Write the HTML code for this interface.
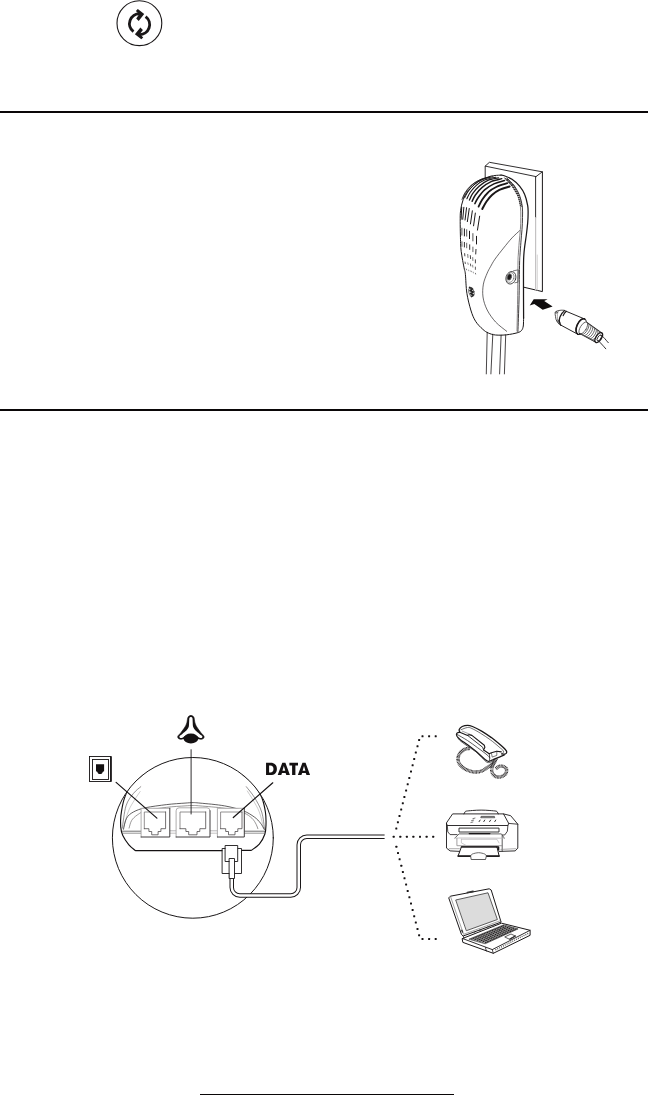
<!DOCTYPE html>
<html>
<head>
<meta charset="utf-8">
<title>Connection guide</title>
<style>
html,body{margin:0;padding:0;background:#fff;}
body{width:648px;height:1095px;position:relative;overflow:hidden;font-family:"Liberation Sans",sans-serif;}
.rule{position:absolute;left:0;width:648px;background:#0a0708;}
#r1{top:110.9px;height:1.9px;}
#r2{top:408.8px;height:2px;}
#r3{top:1094px;height:2px;left:200px;width:254px;}
svg{position:absolute;left:0;top:0;}

</style>
</head>
<body>
<div class="rule" id="r1"></div>
<div class="rule" id="r2"></div>
<div class="rule" id="r3"></div>
<svg width="648" height="1095" viewBox="0 0 648 1095" fill="none" stroke="#1a1718" stroke-width="1" stroke-linecap="round" stroke-linejoin="round">
<g id="icon">
<circle cx="139.4" cy="23.2" r="22.4" stroke-width="1.1"/>
<g stroke="#1a1718">
<path d="M139.85 13.71 A10.0 10.0 0 0 0 133.48 31.69" stroke-width="2.9" stroke-linecap="butt"/>
<polygon points="144.2,14.0 137.8,9.0 135.9,10.9 139.2,14.3 136.2,18.4 138.7,20.9" fill="#1a1718" stroke="none"/>
</g>
<g stroke="#1a1718" transform="translate(0.1 0.9) rotate(180 139.50 23.70)">
<path d="M139.85 13.71 A10.0 10.0 0 0 0 133.48 31.69" stroke-width="2.9" stroke-linecap="butt"/>
<polygon points="144.2,14.0 137.8,9.0 135.9,10.9 139.2,14.3 136.2,18.4 138.7,20.9" fill="#1a1718" stroke="none"/>
</g>
</g>
<g id="adapter">
<path d="M485.2 178.5 L485.2 166.1 L536 176.6" stroke="#1a1718" stroke-width="0.9" fill="none" />
<path d="M485.2 166.1 L489.4 162.3 L542.3 171.8 L536 176.6" stroke="#1a1718" stroke-width="0.9" fill="none" />
<path d="M542.4 171.8 L542.4 291.6 L523.8 287.2" stroke="#1a1718" stroke-width="1.0" fill="none" />
<path d="M535.6 177 L535.6 217.5" stroke="#1a1718" stroke-width="0.9" fill="none" />
<path d="M535.6 217.5 L535.6 289.9" stroke="#c4c2c3" stroke-width="1.2" fill="none" />
<path d="M537.3 255 L537.3 290.3" stroke="#c4c2c3" stroke-width="0.7" fill="none" />
<path d="M500.9 175.1 C499.9 175.2 497.1 175.2 495 175.5 C492.9 175.8 491.5 175.8 488.6 176.9 C485.7 178 481.2 179.7 477.8 182 C474.4 184.3 470.9 187.5 468.5 190.5 C466.1 193.5 464.4 196.5 463.1 199.8 C461.8 203.2 461.1 207 460.6 210.6 C460.1 214.2 460.2 217.3 460.2 221.4 C460.2 225.5 460.3 231.3 460.4 235 C460.5 238.7 460.5 240.9 460.6 243.6 C460.7 246.3 460.9 248.5 461.2 251.3 C461.5 254.1 462.2 257.7 462.7 260.6 C463.2 263.6 463.9 266.7 464.3 269 C464.8 271.3 465 270.3 465.4 274.4 C465.8 278.4 466 287.4 466.9 293.3 C467.8 299.2 469.4 305.3 470.8 310 C472.2 314.7 473.6 318.1 475.6 321.3 C477.6 324.5 480.7 327.4 482.8 329.3 C484.9 331.2 486.2 332.1 488.3 333 C490.4 333.9 492.5 334.7 495.6 335 C498.7 335.3 503.1 335.2 506.7 334.8 C510.3 334.4 514.7 333.5 517.2 332.8 C519.7 332.1 520.5 331.6 521.5 330.5 C522.5 329.4 522.9 328.1 523.3 326 C523.6 323.9 523.5 319.3 523.6 318" stroke="#1a1718" stroke-width="1.0" fill="none" />
<path d="M500.9 175.1 C501.3 175.2 501.6 174.8 503.5 175.5 C505.4 176.2 509.3 177.5 512 179.3 C514.7 181.1 517.5 183.6 519.6 186.1 C521.7 188.6 523.4 191.3 524.7 194.6 C526.1 197.9 527.1 202.4 527.7 205.7 C528.3 208.9 528.1 211.3 528.1 214.1 C528.1 216.9 528 219.2 527.7 222.6 C527.4 226 526.9 230.5 526.4 234.5 C525.9 238.5 525.2 242.2 524.7 246.4 C524.2 250.7 523.8 252.7 523.6 260 C523.4 267.3 523.5 280.3 523.5 290 C523.5 299.7 523.6 313.3 523.6 318" stroke="#1a1718" stroke-width="1.25" fill="none" />
<path d="M506.9 178.1 C508.2 179.4 512.4 183.2 514.5 186.1 C516.6 189 518.3 192.1 519.6 195.5 C520.9 198.9 521.8 202.8 522.3 206.5 C522.8 210.2 522.5 213.7 522.5 217.5 C522.5 221.3 522.3 225.3 522 229.4 C521.7 233.5 521.2 237.9 520.9 242.2 C520.6 246.4 520.2 251.6 520 254.9 C519.8 258.2 519.8 254.5 519.6 262 C519.4 269.5 519.3 288.4 519 300 C518.7 311.6 518.1 326.5 517.9 331.8" stroke="#2a2728" stroke-width="0.9" fill="none" />
<path d="M504.3 177.6 C505.6 179 509.7 183 512 186.1 C514.3 189.2 516.5 192.9 517.9 196.3 C519.3 199.7 519.9 203 520.4 206.5 C520.9 210 520.8 213.7 520.8 217.5 C520.8 221.3 520.7 225.3 520.4 229.4 C520.1 233.5 519.6 237.9 519.2 242.2 C518.9 246.4 518.5 251.6 518.3 254.9 C518.1 258.2 518.1 254.5 518 262 C517.9 269.5 517.8 288.5 517.6 300 C517.4 311.5 517.1 325.8 517 331" stroke="#666364" stroke-width="0.8" fill="none" />
<path d="M504.8 178.6 L508.9 179.9" stroke="#2a2728" stroke-width="1.0" fill="none" stroke-linecap="butt"/>
<path d="M506.3 180.3 L510.4 181.5" stroke="#2a2728" stroke-width="1.0" fill="none" stroke-linecap="butt"/>
<path d="M507.9 182 L512 183.1" stroke="#2a2728" stroke-width="1.0" fill="none" stroke-linecap="butt"/>
<path d="M509.4 183.6 L513.5 184.7" stroke="#2a2728" stroke-width="1.0" fill="none" stroke-linecap="butt"/>
<path d="M510.9 185.3 L514.9 186.3" stroke="#2a2728" stroke-width="1.0" fill="none" stroke-linecap="butt"/>
<path d="M512.3 187.2 L515.9 188.2" stroke="#2a2728" stroke-width="1.0" fill="none" stroke-linecap="butt"/>
<path d="M513.5 189.2 L516.9 190.1" stroke="#2a2728" stroke-width="1.0" fill="none" stroke-linecap="butt"/>
<path d="M514.7 191.2 L517.9 192" stroke="#2a2728" stroke-width="1.0" fill="none" stroke-linecap="butt"/>
<path d="M515.8 193.3 L519 193.8" stroke="#2a2728" stroke-width="1.0" fill="none" stroke-linecap="butt"/>
<path d="M517 195.3 L519.9 195.8" stroke="#2a2728" stroke-width="1.0" fill="none" stroke-linecap="butt"/>
<path d="M517.9 197.3 L520.4 198" stroke="#2a2728" stroke-width="1.0" fill="none" stroke-linecap="butt"/>
<path d="M518.4 199.4 L521 200.2" stroke="#2a2728" stroke-width="1.0" fill="none" stroke-linecap="butt"/>
<path d="M518.9 201.4 L521.5 202.3" stroke="#2a2728" stroke-width="1.0" fill="none" stroke-linecap="butt"/>
<path d="M519.4 203.4 L522 204.5" stroke="#2a2728" stroke-width="1.0" fill="none" stroke-linecap="butt"/>
<path d="M519.9 205.5 L522.5 206.4" stroke="#2a2728" stroke-width="1.0" fill="none" stroke-linecap="butt"/>
<path d="M509.6 186.5 C507.9 187.1 502.3 188.5 499.4 189.9 C496.5 191.3 494.1 193.1 492 195 C489.9 196.9 488.1 199.2 486.5 201.5 C484.9 203.8 483 207.7 482.3 208.9" stroke="#1a1718" stroke-width="2.0" fill="none" />
<path d="M507.3 183.2 C505.5 183.8 499.9 185.2 496.7 186.7 C493.5 188.2 490.7 190 488.3 192.2 C485.9 194.3 483.9 197.2 482.3 199.6 C480.7 202 479.2 205.4 478.6 206.6" stroke="#1a1718" stroke-width="1.8" fill="none" />
<path d="M504.5 180.6 C502.7 181.2 497.2 182.3 493.9 183.9 C490.6 185.5 487.2 187.6 484.6 189.9 C482 192.2 479.7 195.5 478.1 197.8 C476.5 200.1 475.4 202.6 474.9 203.6" stroke="#1a1718" stroke-width="1.6" fill="none" />
<path d="M501.8 178.7 C500 179.2 494.4 180.1 491.1 181.6 C487.8 183.1 484.5 185.4 481.9 187.6 C479.3 189.8 477 192.7 475.4 195 C473.8 197.3 472.7 200.2 472.1 201.3" stroke="#1a1718" stroke-width="1.4" fill="none" />
<path d="M498.5 177.9 C496.6 178.3 490.6 179.2 487.4 180.6 C484.2 182 481.6 184 479.1 186.2 C476.6 188.4 474.2 191.3 472.6 193.6 C471 195.9 469.9 199 469.4 200.1" stroke="#1a1718" stroke-width="1.25" fill="none" />
<path d="M495.7 177.2 C493.9 177.7 487.8 178.7 484.6 180 C481.4 181.3 478.7 183.3 476.3 185.3 C473.9 187.3 471.9 190 470.3 192.2 C468.7 194.4 467.5 197.6 466.9 198.7" stroke="#1a1718" stroke-width="1.1" fill="none" />
<path d="M493 176.7 C491.3 177.1 485.9 178 482.8 179.3 C479.7 180.6 476.9 182.3 474.4 184.4 C471.9 186.5 469.6 189.6 468 191.8 C466.4 194 465.2 196.8 464.7 197.8" stroke="#1a1718" stroke-width="0.95" fill="none" />
<path d="M490.5 176.8 C488.9 177.2 484 178 481 179.3 C478 180.6 475.1 182.3 472.6 184.4 C470.1 186.5 467.8 189.7 466.2 192 C464.6 194.3 463.5 197.2 463 198.3" stroke="#1a1718" stroke-width="0.85" fill="none" />
<path d="M488.5 177.3 C487 177.8 482.4 178.8 479.5 180.2 C476.6 181.5 473.4 183.3 471 185.4 C468.6 187.5 466.3 190.7 464.8 193 C463.3 195.3 462.5 198.4 462 199.5" stroke="#1a1718" stroke-width="0.75" fill="none" />
<path d="M479.7 215.8 L477.4 230.5" stroke="#1a1718" stroke-width="1.0" fill="none" stroke-linecap="butt"/>
<path d="M475.4 212.7 L473.5 226.2" stroke="#1a1718" stroke-width="1.0" fill="none" stroke-linecap="butt"/>
<path d="M472.4 210.4 L470.4 224.3" stroke="#1a1718" stroke-width="1.0" fill="none" stroke-linecap="butt"/>
<path d="M469.3 208.1 L467.3 222" stroke="#1a1718" stroke-width="1.0" fill="none" stroke-linecap="butt"/>
<path d="M466.6 207.3 L465 220.4" stroke="#1a1718" stroke-width="1.0" fill="none" stroke-linecap="butt"/>
<path d="M463.9 206.9 L462.7 219.7" stroke="#1a1718" stroke-width="1.0" fill="none" stroke-linecap="butt"/>
<path d="M461.7 207 L461.1 219.7" stroke="#1a1718" stroke-width="1.0" fill="none" stroke-linecap="butt"/>
<path d="M476.5 235.9 L476.5 244.4" stroke="#1a1718" stroke-width="1.0" fill="none" stroke-linecap="butt"/>
<path d="M472.9 233.2 L472.9 241.3" stroke="#555" stroke-width="1.0" fill="none" stroke-linecap="butt"/>
<path d="M469.5 230.8 L469.5 239" stroke="#1a1718" stroke-width="1.0" fill="none" stroke-linecap="butt"/>
<path d="M466.7 229.3 L466.7 236.6" stroke="#555" stroke-width="1.0" fill="none" stroke-linecap="butt"/>
<path d="M464.4 228.5 L464.4 236.3" stroke="#1a1718" stroke-width="1.0" fill="none" stroke-linecap="butt"/>
<path d="M461.9 227.8 L461.9 235.5" stroke="#555" stroke-width="1.0" fill="none" stroke-linecap="butt"/>
<path d="M476 249 L475.7 254.4" stroke="#1a1718" stroke-width="0.9" fill="none" stroke-linecap="butt"/>
<path d="M472.9 246.7 L472.9 252.1" stroke="#555" stroke-width="0.9" fill="none" stroke-linecap="butt"/>
<path d="M469.7 244.4 L469.7 249.8" stroke="#1a1718" stroke-width="0.9" fill="none" stroke-linecap="butt"/>
<path d="M466.7 242.8 L466.7 248.2" stroke="#555" stroke-width="0.9" fill="none" stroke-linecap="butt"/>
<path d="M464.4 242 L464.4 247.4" stroke="#1a1718" stroke-width="0.9" fill="none" stroke-linecap="butt"/>
<path d="M461.9 241.3 L462 246.7" stroke="#555" stroke-width="0.9" fill="none" stroke-linecap="butt"/>
<path d="M475.4 259.4 L475.4 263.3" stroke="#1a1718" stroke-width="0.8" fill="none" stroke-linecap="butt"/>
<path d="M472.7 257.1 L472.9 260.9" stroke="#555" stroke-width="0.8" fill="none" stroke-linecap="butt"/>
<path d="M470.3 255.2 L470.6 259" stroke="#1a1718" stroke-width="0.8" fill="none" stroke-linecap="butt"/>
<path d="M467.7 254 L468 257.9" stroke="#555" stroke-width="0.8" fill="none" stroke-linecap="butt"/>
<path d="M464.6 253.2 L464.9 256.3" stroke="#1a1718" stroke-width="0.8" fill="none" stroke-linecap="butt"/>
<path d="M475.4 266.7 L475.4 269.8" stroke="#1a1718" stroke-width="0.7" fill="none" stroke-linecap="butt"/>
<path d="M472.6 264.8 L472.9 267.5" stroke="#555" stroke-width="0.7" fill="none" stroke-linecap="butt"/>
<path d="M470.4 263.6 L470.8 266.3" stroke="#1a1718" stroke-width="0.7" fill="none" stroke-linecap="butt"/>
<path d="M467.7 262.5 L468.3 264.8" stroke="#555" stroke-width="0.7" fill="none" stroke-linecap="butt"/>
<path d="M465 261.7 L465.4 264" stroke="#1a1718" stroke-width="0.7" fill="none" stroke-linecap="butt"/>
<path d="M475.4 272.9 L475.7 274.4" stroke="#1a1718" stroke-width="0.6" fill="none" stroke-linecap="butt"/>
<path d="M473.1 271.7 L473.5 273.3" stroke="#555" stroke-width="0.6" fill="none" stroke-linecap="butt"/>
<path d="M470.8 270.6 L471.4 272.1" stroke="#1a1718" stroke-width="0.6" fill="none" stroke-linecap="butt"/>
<path d="M468.5 269.7 L468.9 271.2" stroke="#555" stroke-width="0.6" fill="none" stroke-linecap="butt"/>
<path d="M466.2 268.7 L466.6 270.2" stroke="#1a1718" stroke-width="0.6" fill="none" stroke-linecap="butt"/>
<path d="M519.6 230.7 C518.3 231.9 514.7 235 512 237.9 C509.3 240.8 506.3 244.6 503.5 248.1 C500.7 251.6 497.2 256 495 259.1 C492.8 262.2 491.8 264.4 490.5 266.7 C489.2 269 488.4 270.2 487.2 273.1 C486 276 484.1 280.1 483.4 284.1 C482.7 288.1 482.4 292.7 483 297 C483.6 301.3 485.1 305.8 487.2 310 C489.3 314.2 492.4 318.4 495.6 322 C498.9 325.6 504.9 329.8 506.7 331.3" stroke="#2a2728" stroke-width="0.7" fill="none" />
<ellipse cx="510.9" cy="277.8" rx="4.9" ry="6.4" transform="rotate(18 510.9 277.8)" stroke-width="0.8" stroke="#333"/>
<ellipse cx="510.3" cy="277.5" rx="3.6" ry="5.0" transform="rotate(18 510.3 277.5)" stroke-width="0.7" stroke="#777"/>
<ellipse cx="509.4" cy="277.0" rx="2.1" ry="3.2" transform="rotate(18 509.4 277)" fill="#1a1718" stroke="#666" stroke-width="0.7"/>
<path d="M513.5 270.8 L518.4 269.8 L517.9 282.2 L514.8 282.8" stroke="#444" stroke-width="0.7" fill="none" />
<path d="M469.6 287.5 C470.1 287.8 472.4 288.5 472.5 289 C472.6 289.5 469.9 290 470 290.5 C470.1 291 473.2 291.5 473.3 292 C473.4 292.5 470.5 293 470.5 293.5 C470.5 294 473.1 294.5 473.3 295 C473.5 295.5 471.8 296.2 471.5 296.5" stroke="#222" stroke-width="1.7" fill="none" />
<ellipse cx="471.4" cy="292" rx="2.6" ry="4.6" transform="rotate(-15 471.4 292)" stroke-width="0.7" stroke="#444"/>
<path d="M487.2 332.3 L486.3 373.9" stroke="#1a1718" stroke-width="0.8" fill="none" />
<path d="M492.8 334.2 L490.9 373.9" stroke="#1a1718" stroke-width="0.8" fill="none" />
<path d="M501.1 335.2 L499.6 373.9" stroke="#1a1718" stroke-width="0.8" fill="none" />
<path d="M505.7 335 L504.4 373.9" stroke="#1a1718" stroke-width="0.8" fill="none" />
<polygon points="533.7,299.3 547.6,299.3 544.2,301.1 552.6,306.4 542.7,309.8 534.3,303.9 529.7,305.4" fill="#0f0c0d" stroke="none"/>
<path d="M564.5 310.6 L584.6 319" stroke="#1a1718" stroke-width="0.95" fill="none" />
<path d="M560.8 325.1 L577.9 334.3" stroke="#1a1718" stroke-width="0.95" fill="none" />
<path d="M564.5 310.6 Q556.6 318.6 560.8 325.1" stroke="#1a1718" stroke-width="1.3" fill="none" stroke-dasharray="2.2 0.5"/>
<path d="M566.4 311.3 Q564.2 312.8 563.2 315.6" stroke="#1a1718" stroke-width="1.2" fill="none" />
<path d="M564.2 310.3 C563.7 310.3 562.3 310.1 561.1 310.2 C559.9 310.3 558.1 310.6 557.1 311 C556.1 311.4 555.5 311.6 555.2 312.5 C554.9 313.4 555.3 315.3 555.5 316.5 C555.7 317.7 555.7 318.7 556.2 319.9 C556.7 321.1 557.8 322.7 558.6 323.6 C559.4 324.5 560.4 324.9 560.8 325.1" stroke="#2a2728" stroke-width="0.8" fill="none" />
<path d="M558.3 311.2 C558.1 311.8 557.5 313.3 557.4 314.5 C557.3 315.7 557.3 317.4 557.5 318.5 C557.7 319.6 558.2 320.8 558.4 321.3" stroke="#666" stroke-width="0.6" fill="none" />
<circle cx="556.3" cy="312.4" r="0.9" stroke-width="0.6" stroke="#333"/>
<circle cx="557.9" cy="320.8" r="1.0" stroke-width="0.6" stroke="#333"/>
<circle cx="559.2" cy="323.0" r="0.9" stroke-width="0.6" stroke="#333"/>
<g transform="translate(581.25 326.65) rotate(24)">
<ellipse cx="0" cy="0" rx="4.4" ry="8.35" stroke-width="0.9" fill="#fff"/>
<path d="M0 -8.35 A4.4 8.35 0 0 0 0 8.35" stroke-width="1.6"/>
</g>
<g transform="translate(581.6 326.9) rotate(32)">
<ellipse cx="2.0" cy="0" rx="3.0" ry="6.7" stroke-width="0.8" stroke="#555" fill="#fff"/>
<path d="M2.5 -6.6 L20.6 -5.5 M1.5 6.6 L19.4 5.5" stroke-width="0.9"/>
<path d="M4.6 -6.4 A2.4 6.4 0 0 1 3.6 6.4" stroke-width="0.8" stroke="#555"/>
<path d="M6.8 -6.3 A2.4 6.3 0 0 1 5.8 6.3" stroke-width="0.8" stroke="#555"/>
<path d="M9.0 -6.1 A2.4 6.1 0 0 1 8.0 6.1" stroke-width="0.8" stroke="#555"/>
<path d="M11.2 -6.0 A2.4 6.0 0 0 1 10.2 6.0" stroke-width="0.8" stroke="#555"/>
<path d="M13.4 -5.8 A2.4 5.8 0 0 1 12.4 5.8" stroke-width="0.8" stroke="#555"/>
<path d="M15.6 -5.7 A2.4 5.7 0 0 1 14.6 5.7" stroke-width="0.8" stroke="#555"/>
<path d="M17.8 -5.6 A2.4 5.6 0 0 1 16.8 5.6" stroke-width="0.8" stroke="#555"/>
<ellipse cx="20.2" cy="0" rx="2.7" ry="5.6" stroke-width="1.3" fill="#fff"/>
<ellipse cx="20.9" cy="0.1" rx="1.6" ry="3.3" stroke-width="0.8"/>
</g>
<path d="M601 335 C601.5 335.4 602.6 336.2 603.8 337.5 C605 338.8 607.5 341.8 608.3 342.7" stroke="#1a1718" stroke-width="0.9" fill="none" />
<path d="M598.6 341 C599.1 341.5 600.3 342.7 601.5 344 C602.7 345.3 605.1 348 605.8 348.8" stroke="#1a1718" stroke-width="0.9" fill="none" />
</g>
<g id="ports">
<defs><clipPath id="cc"><ellipse cx="192.85" cy="837.85" rx="80.2" ry="80.0"/></clipPath></defs>
<ellipse cx="192.85" cy="837.85" rx="80.45" ry="80.35" stroke-width="1.0"/>
<g clip-path="url(#cc)">
<path d="M142.4 775 C140.4 776.9 133.3 782 130.2 786.1 C127.1 790.2 125.5 794.8 124 799.7 C122.5 804.6 121.5 811.2 120.9 815.7 C120.4 820.2 120.4 823.6 120.7 826.9 C121 830.2 121.4 832.5 122.8 835.5 C124.2 838.5 126.8 842.3 128.9 844.8 C131 847.3 134.3 849.6 135.4 850.6 H222.5" stroke="#141112" stroke-width="1.15" fill="none" />
<path d="M243.2 775 C245 776.6 251.2 781.2 254.3 784.9 C257.4 788.6 259.9 792.7 261.7 797.2 C263.5 801.7 264.7 807.5 265.4 812 C266.1 816.5 266.1 820.7 266 824.4 C265.9 828.1 265.9 831 264.8 834.3 C263.7 837.6 261.6 841.4 259.3 844.1 C257 846.8 252.5 849.4 251.2 850.4 H241.5" stroke="#141112" stroke-width="1.15" fill="none" />
<path d="M122.3 828.1 C122.9 824.4 124.2 811.7 126 805.9 C127.8 800.1 130.9 796.7 133.4 793.5 C135.9 790.3 139.6 787.8 140.8 786.7" stroke="#4a4748" stroke-width="0.6" fill="none" />
<path d="M123.2 828.5 C124.1 825.6 126.6 815.8 128.5 811 C130.4 806.2 132.6 803.2 134.5 800 C136.4 796.8 139.2 792.9 140.2 791.5" stroke="#9a9899" stroke-width="0.5" fill="none" />
<path d="M264.6 829.5 C264.1 826.6 263.4 817.4 261.7 812 C260 806.6 256.9 801.4 254.3 797.2 C251.7 793 247.6 788.5 246.3 786.7" stroke="#4a4748" stroke-width="0.6" fill="none" />
<path d="M263.8 829 C263.1 826.2 261.1 816.8 259.3 812 C257.5 807.2 255 803.5 253 800 C251 796.5 248.2 792.5 247.3 791" stroke="#9a9899" stroke-width="0.5" fill="none" />
<path d="M123.5 829.3 C124 827.4 124.9 821.1 126.6 818.2 C128.2 815.3 130.2 813.8 133.4 812 C136.6 810.2 140.1 808.9 145.7 807.7 C151.2 806.5 160.1 805.4 166.7 804.6 C173.2 803.8 180.6 803.4 185 803.1 C189.4 802.8 190.5 802.6 193 802.6 C195.5 802.6 194.7 802.6 200 803.1 C205.3 803.6 217.5 804.6 224.7 805.9 C231.9 807.2 238.3 808.9 243.2 810.8 C248.1 812.6 251.4 815 254.3 817 C257.2 819 258.9 821.1 260.5 823.1 C262.1 825.1 263.6 828.3 264.2 829.3" stroke="#3a3738" stroke-width="0.8" fill="none" />
<path d="M129.1 828.1 C129.5 826.9 130.2 822.9 131.5 820.7 C132.8 818.5 134.7 816.8 137.1 815.1 C139.5 813.5 140.8 812.1 145.7 810.8 C150.6 809.5 160.1 808.1 166.7 807.3 C173.2 806.5 180.6 806.2 185 805.9 C189.4 805.6 190.5 805.5 193 805.5 C195.5 805.5 194.7 805.4 200 805.9 C205.3 806.4 217.5 807.2 224.7 808.3 C231.9 809.4 238.7 811.1 243.2 812.7 C247.7 814.4 249.7 816.2 251.9 818.2 C254.1 820.2 255.2 822.6 256.2 824.4 C257.2 826.1 257.5 828 257.8 828.7" stroke="#6e6b6c" stroke-width="0.7" fill="none" />
<path d="M122.5 831.2 L141 831.2" stroke="#333" stroke-width="0.7" fill="none" />
<path d="M122.8 833.2 L141 833.2" stroke="#666" stroke-width="0.7" fill="none" />
<path d="M244.5 831.2 L264.8 831.2" stroke="#333" stroke-width="0.7" fill="none" />
<path d="M244.5 833.2 L264.6 833.2" stroke="#666" stroke-width="0.7" fill="none" />
<path d="M170 830.8 L176 830.8" stroke="#9a9899" stroke-width="0.7" fill="none" />
<path d="M210 830.8 L217.4 830.8" stroke="#9a9899" stroke-width="0.7" fill="none" />
<path d="M170 833.2 L176 833.2" stroke="#bdbbbc" stroke-width="0.9" fill="none" />
<path d="M210 833.2 L217.4 833.2" stroke="#bdbbbc" stroke-width="0.9" fill="none" />
<rect x="141.1" y="808.3" width="28.7" height="28.7" rx="0.0" fill="#fff" stroke="none"/>
<path d="M141.1 837.0 V808.3 H169.8" stroke="#9a9899" stroke-width="0.8" fill="none" />
<path d="M169.8 808.3 V837.0 H141.1" stroke="#2a2728" stroke-width="0.9" fill="none" />
<path d="M144.3 828.7 V812.0 H165.6" stroke="#777475" stroke-width="0.8" fill="none" />
<path d="M165.6 812.0 V828.7 H160.9 V831.5 H158.1 V834.8 H151.7 V831.5 H148.9 V828.7 H144.3" stroke="#454243" stroke-width="0.75" fill="none" />
<rect x="176.1" y="807.8" width="33.9" height="29.2" rx="3.0" fill="#fff" stroke="none"/>
<path d="M176.1 837.0 V810.8 Q176.1 807.8 179.1 807.8 H207.0 Q210.0 807.8 210.0 810.8" stroke="#9a9899" stroke-width="0.8" fill="none" />
<path d="M210.0 810.8 V837.0 H176.1" stroke="#2a2728" stroke-width="0.9" fill="none" />
<path d="M180.0 828.7 V812.0 H205.7" stroke="#777475" stroke-width="0.8" fill="none" />
<path d="M205.7 812.0 V828.7 H199.8 V831.5 H197.0 V834.8 H188.7 V831.5 H185.9 V828.7 H180.0" stroke="#454243" stroke-width="0.75" fill="none" />
<rect x="217.4" y="808.3" width="26.9" height="28.7" rx="0.0" fill="#fff" stroke="none"/>
<path d="M217.4 837.0 V808.3 H244.3" stroke="#9a9899" stroke-width="0.8" fill="none" />
<path d="M244.3 808.3 V837.0 H217.4" stroke="#2a2728" stroke-width="0.9" fill="none" />
<path d="M220.6 828.7 V812.0 H242.0" stroke="#777475" stroke-width="0.8" fill="none" />
<path d="M242.0 812.0 V828.7 H237.8 V831.5 H235.0 V834.8 H228.5 V831.5 H225.7 V828.7 H220.6" stroke="#454243" stroke-width="0.75" fill="none" />
</g>
<path d="M116.1 782.4 L156.9 818.1" stroke="#141112" stroke-width="1.2" fill="none" />
<path d="M191.1 749.3 L191.1 814.4" stroke="#1a1718" stroke-width="0.9" fill="none" stroke-linecap="butt"/>
<path d="M272.8 782.8 L233.3 817.5" stroke="#141112" stroke-width="1.2" fill="none" />
<path d="M231.75 872 V887.4 A8 8 0 0 0 239.75 895.4 H290.75 A8 8 0 0 0 298.75 887.4 V844.75 A8 8 0 0 1 306.75 836.75 H384.6" stroke="#1a1718" stroke-width="4.5" fill="none" stroke-linecap="butt"/>
<path d="M231.75 872 V887.4 A8 8 0 0 0 239.75 895.4 H290.75 A8 8 0 0 0 298.75 887.4 V844.75 A8 8 0 0 1 306.75 836.75 H384.6 h1" stroke="#fff" stroke-width="2.5" fill="none" stroke-linecap="butt"/>
<rect x="222.5" y="848.5" width="19" height="25" fill="#fff" stroke-width="0.9"/>
<rect x="225.5" y="845.5" width="12.2" height="16" fill="#fff" stroke-width="0.9"/>
<rect x="229.5" y="858.5" width="5" height="20" fill="#fff" stroke-width="0.9"/>
<rect x="89.5" y="756.5" width="21.5" height="25.0" stroke-width="0.9" stroke-linejoin="miter" stroke="#141112"/>
<path d="M110.9 756.4 L110.9 781.4" stroke="#1a1718" stroke-width="1.7" fill="none" stroke-linecap="butt"/>
<rect x="92.5" y="759.5" width="16" height="20.0" stroke-width="0.9" stroke-linejoin="miter" stroke="#141112"/>
<path d="M96 764.2 H104.1 V771.3 L102.9 771.7 L102.0 773.6 Q100 774.6 98.1 773.6 L97.2 771.7 L96 771.3 Z" fill="#141112" stroke="none"/>
<path d="M190.9 715.6 C191.9 715.6 193.1 716 193.8 717.1 C194.4 718.2 194.5 720.9 194.8 722.2 C195.2 723.6 195.5 724.3 195.9 725.3 C196.4 726.2 196.7 726.8 197.5 728 C198.3 729.2 199.6 731 200.7 732.4 C201.8 733.8 203.5 735.1 203.9 736.1 C204.4 737.2 203.9 738 203.4 738.5 C202.9 739 201.8 739.3 200.9 739.3 C200 739.4 199.8 738.8 198.2 738.9 C196.5 738.9 193.3 739.9 190.9 739.9 C188.5 739.9 185.3 738.9 183.6 738.9 C182 738.8 181.8 739.4 180.9 739.3 C180.1 739.3 178.9 739 178.4 738.5 C177.9 738 177.4 737.2 177.9 736.1 C178.3 735.1 180.1 733.8 181.1 732.4 C182.2 731 183.5 729.2 184.3 728 C185.1 726.8 185.4 726.2 185.9 725.3 C186.3 724.3 186.6 723.6 187 722.2 C187.3 720.9 187.4 718.2 188.1 717.1 C188.7 716 190 715.6 190.9 715.6Z" stroke="#141112" stroke-width="0.6" fill="#141112" />
<path d="M190.9 716.9 C191.4 716.9 192.1 717.1 192.4 717.9 C192.7 718.8 192.6 720.7 192.7 722.2 C192.8 723.7 192.7 725.6 193.2 727 C193.6 728.4 194.4 729.4 195.5 730.6 C196.5 731.7 198.4 732.9 199.5 733.9 C200.7 734.8 202 735.6 202.3 736.3 C202.7 737 202.1 737.8 201.6 738 C201 738.2 199.8 737.7 198.9 737.4 C197.9 737 197.5 736.1 196.1 735.8 C194.8 735.5 192.7 735.8 190.9 735.8 C189.2 735.8 187 735.5 185.7 735.8 C184.4 736.1 183.9 737 183 737.4 C182.1 737.7 180.8 738.2 180.3 738 C179.7 737.8 179.2 737 179.5 736.3 C179.8 735.6 181.1 734.8 182.3 733.9 C183.4 732.9 185.3 731.7 186.4 730.6 C187.4 729.4 188.2 728.4 188.7 727 C189.1 725.6 189 723.7 189.1 722.2 C189.3 720.7 189.1 718.8 189.4 717.9 C189.7 717.1 190.4 716.9 190.9 716.9Z" stroke="none" stroke-width="0" fill="#fff" />
<ellipse cx="190.9" cy="738.5" rx="7.3" ry="5.1" fill="#141112" stroke="none"/>
<path d="M266.05 762.8 H270.5 C274.6 762.8 276.9 765.2 276.9 768.9 C276.9 772.6 274.6 775.05 270.5 775.05 H266.05 Z M269.1 765.4 V772.5 H270.3 C272.4 772.5 273.5 771.0 273.5 768.9 C273.5 766.8 272.4 765.4 270.3 765.4 Z" fill="#141112" stroke="none" fill-rule="evenodd"/>
<path d="M277.7 775.05 L282.3 762.8 H285.4 L289.9 775.05 H286.3 L285.6 773.0 H282.0 L281.3 775.05 Z M283.85 765.9 L285.25 770.8 H282.45 Z" fill="#141112" stroke="none" fill-rule="evenodd"/>
<path d="M289.4 762.8 H298.0 V765.5 H295.4 V775.05 H292.1 V765.5 H289.4 Z" fill="#141112" stroke="none"/>
<path d="M277.7 775.05 L282.3 762.8 H285.4 L289.9 775.05 H286.3 L285.6 773.0 H282.0 L281.3 775.05 Z M283.85 765.9 L285.25 770.8 H282.45 Z" fill="#141112" stroke="none" fill-rule="evenodd" transform="translate(20.15 0)"/>
<rect x="421.5" y="735.2" width="2" height="2" rx="0.5" fill="#141112" stroke="none"/>
<rect x="428.1" y="735.2" width="2" height="2" rx="0.5" fill="#141112" stroke="none"/>
<rect x="434.7" y="735.2" width="2" height="2" rx="0.5" fill="#141112" stroke="none"/>
<rect x="418.1" y="738.9" width="2" height="2" rx="0.5" fill="#141112" stroke="none"/>
<rect x="416.5" y="745.2" width="2" height="2" rx="0.5" fill="#141112" stroke="none"/>
<rect x="414.8" y="751.6" width="2" height="2" rx="0.5" fill="#141112" stroke="none"/>
<rect x="413.2" y="757.9" width="2" height="2" rx="0.5" fill="#141112" stroke="none"/>
<rect x="411.6" y="764.2" width="2" height="2" rx="0.5" fill="#141112" stroke="none"/>
<rect x="410.0" y="770.5" width="2" height="2" rx="0.5" fill="#141112" stroke="none"/>
<rect x="408.3" y="776.9" width="2" height="2" rx="0.5" fill="#141112" stroke="none"/>
<rect x="406.7" y="783.2" width="2" height="2" rx="0.5" fill="#141112" stroke="none"/>
<rect x="405.1" y="789.5" width="2" height="2" rx="0.5" fill="#141112" stroke="none"/>
<rect x="403.4" y="795.9" width="2" height="2" rx="0.5" fill="#141112" stroke="none"/>
<rect x="401.8" y="802.2" width="2" height="2" rx="0.5" fill="#141112" stroke="none"/>
<rect x="400.2" y="808.5" width="2" height="2" rx="0.5" fill="#141112" stroke="none"/>
<rect x="398.5" y="814.9" width="2" height="2" rx="0.5" fill="#141112" stroke="none"/>
<rect x="396.9" y="821.2" width="2" height="2" rx="0.5" fill="#141112" stroke="none"/>
<rect x="395.3" y="827.5" width="2" height="2" rx="0.5" fill="#141112" stroke="none"/>
<rect x="392.7" y="835.8" width="2" height="2" rx="0.5" fill="#141112" stroke="none"/>
<rect x="399.3" y="835.8" width="2" height="2" rx="0.5" fill="#141112" stroke="none"/>
<rect x="405.9" y="835.8" width="2" height="2" rx="0.5" fill="#141112" stroke="none"/>
<rect x="412.4" y="835.8" width="2" height="2" rx="0.5" fill="#141112" stroke="none"/>
<rect x="419.0" y="835.8" width="2" height="2" rx="0.5" fill="#141112" stroke="none"/>
<rect x="425.6" y="835.8" width="2" height="2" rx="0.5" fill="#141112" stroke="none"/>
<rect x="432.2" y="835.8" width="2" height="2" rx="0.5" fill="#141112" stroke="none"/>
<rect x="395.4" y="845.7" width="2" height="2" rx="0.5" fill="#141112" stroke="none"/>
<rect x="397.0" y="852.0" width="2" height="2" rx="0.5" fill="#141112" stroke="none"/>
<rect x="398.6" y="858.3" width="2" height="2" rx="0.5" fill="#141112" stroke="none"/>
<rect x="400.3" y="864.7" width="2" height="2" rx="0.5" fill="#141112" stroke="none"/>
<rect x="401.9" y="871.0" width="2" height="2" rx="0.5" fill="#141112" stroke="none"/>
<rect x="403.5" y="877.3" width="2" height="2" rx="0.5" fill="#141112" stroke="none"/>
<rect x="405.1" y="883.6" width="2" height="2" rx="0.5" fill="#141112" stroke="none"/>
<rect x="406.7" y="889.9" width="2" height="2" rx="0.5" fill="#141112" stroke="none"/>
<rect x="408.4" y="896.3" width="2" height="2" rx="0.5" fill="#141112" stroke="none"/>
<rect x="410.0" y="902.6" width="2" height="2" rx="0.5" fill="#141112" stroke="none"/>
<rect x="411.6" y="908.9" width="2" height="2" rx="0.5" fill="#141112" stroke="none"/>
<rect x="413.2" y="915.2" width="2" height="2" rx="0.5" fill="#141112" stroke="none"/>
<rect x="414.8" y="921.5" width="2" height="2" rx="0.5" fill="#141112" stroke="none"/>
<rect x="416.5" y="927.9" width="2" height="2" rx="0.5" fill="#141112" stroke="none"/>
<rect x="418.1" y="934.2" width="2" height="2" rx="0.5" fill="#141112" stroke="none"/>
<rect x="421.5" y="938.0" width="2" height="2" rx="0.5" fill="#141112" stroke="none"/>
<rect x="428.1" y="938.0" width="2" height="2" rx="0.5" fill="#141112" stroke="none"/>
<rect x="434.7" y="938.0" width="2" height="2" rx="0.5" fill="#141112" stroke="none"/>
</g>
<g id="devices">
<path d="M469.9 748.4 C469.1 748.5 466.6 748.4 465 749.2 C463.4 750 461.2 751.6 460.1 753 C459 754.4 458.3 756.2 458.1 757.8 C457.9 759.4 458.1 761.2 458.8 762.7 C459.5 764.2 460.7 765.6 462.2 766.9 C463.7 768.2 465.7 769.4 467.8 770.3 C469.9 771.1 472.4 771.9 474.7 772 C477 772.1 479.6 771.7 481.7 771 C483.8 770.3 485.5 768.8 487.2 767.6 C488.9 766.5 490.7 765.4 492.1 764.1 C493.5 762.8 494.8 761.4 495.6 759.9 C496.4 758.4 496.6 756.5 496.9 755.1 C497.2 753.7 497.1 752.2 497.2 751.6" stroke="#2a2728" stroke-width="3.4" fill="none" stroke-dasharray="0.85 0.5" stroke-linecap="butt"/>
<path d="M469.9 748.4 C469.1 748.5 466.6 748.4 465 749.2 C463.4 750 461.2 751.6 460.1 753 C459 754.4 458.3 756.2 458.1 757.8 C457.9 759.4 458.1 761.2 458.8 762.7 C459.5 764.2 460.7 765.6 462.2 766.9 C463.7 768.2 465.7 769.4 467.8 770.3 C469.9 771.1 472.4 771.9 474.7 772 C477 772.1 479.6 771.7 481.7 771 C483.8 770.3 485.5 768.8 487.2 767.6 C488.9 766.5 490.7 765.4 492.1 764.1 C493.5 762.8 494.8 761.4 495.6 759.9 C496.4 758.4 496.6 756.5 496.9 755.1 C497.2 753.7 497.1 752.2 497.2 751.6" stroke="#bdbdbd" stroke-width="0.5" fill="none" stroke-linecap="butt"/>
<path d="M495.6 759.9 C495.1 760.8 493.5 763.8 492.8 765.5 C492.1 767.2 491.6 768.8 491.7 770.3 C491.8 771.8 492.5 773.7 493.5 774.8 C494.5 775.9 496.1 776.8 497.6 777 C499.1 777.2 501.1 776.9 502.5 776.2 C503.9 775.6 505.4 774.3 506 773.1 C506.6 771.9 506.9 770 506.4 768.9 C505.9 767.8 504.4 766.8 503.2 766.4 C502 766 500.3 766 499 766.4 C497.7 766.8 496.2 768.5 495.6 768.9" stroke="#2a2728" stroke-width="3.4" fill="none" stroke-dasharray="0.85 0.5" stroke-linecap="butt"/>
<path d="M495.6 759.9 C495.1 760.8 493.5 763.8 492.8 765.5 C492.1 767.2 491.6 768.8 491.7 770.3 C491.8 771.8 492.5 773.7 493.5 774.8 C494.5 775.9 496.1 776.8 497.6 777 C499.1 777.2 501.1 776.9 502.5 776.2 C503.9 775.6 505.4 774.3 506 773.1 C506.6 771.9 506.9 770 506.4 768.9 C505.9 767.8 504.4 766.8 503.2 766.4 C502 766 500.3 766 499 766.4 C497.7 766.8 496.2 768.5 495.6 768.9" stroke="#bdbdbd" stroke-width="0.5" fill="none" stroke-linecap="butt"/>
<path d="M456.8 733.3 L457 736.3 L460 739.4 L467.6 744.8 L476.2 750.8 L486.2 760.3 L489.2 761.2 L492.7 759.8 L498.1 757.6 L504.3 754.9 L506.1 752.7 L504.3 748.4 L478.4 729 L459.8 732Z" stroke="none" stroke-width="0.1" fill="#fff" />
<path d="M459.8 732.2 C459.3 732.4 457.3 732.6 456.8 733.3 C456.3 734 456.5 735.3 457 736.3 C457.6 737.3 458.3 738 460 739.4 C461.8 740.9 464.9 742.8 467.6 744.8 C470.3 746.9 473.2 749.1 476.2 751.6 C479.3 754.2 484 758.7 486.2 760.3 C488.3 761.9 488.1 761.2 489.2 761.2 C490.3 761.1 491.2 760.3 492.7 759.8 C494.1 759.2 496.1 758.4 498.1 757.6 C500 756.8 503.3 755.3 504.3 754.9" stroke="#1a1718" stroke-width="1.25" fill="none" />
<path d="M457 734.4 C458.8 735.4 464.2 738.4 467.6 740.6 C471 742.8 473.9 745 477.3 747.5 C480.7 750 485.9 753.8 487.9 755.6 C490 757.5 489.4 757.8 489.6 758.7 C489.9 759.6 489.3 760.7 489.2 761.2" stroke="#333" stroke-width="0.8" fill="none" />
<path d="M457.7 737.6 C458.2 738.2 458.8 739.6 460.6 741.1 C462.3 742.5 465.4 744.6 468.1 746.5 C470.8 748.4 473.8 750 476.8 752.5 C479.8 755 483.9 759.9 486 761.6 C488 763.2 488.1 762.5 489.2 762.5 C490.3 762.4 492.1 761.3 492.7 761" stroke="#333" stroke-width="0.8" fill="none" />
<path d="M459.2 729.5 L462.2 726.5 L467.6 725.3 L472.5 726.5 L481.6 731.1 L491.4 737.6 L500 744.6 L505.7 750 L506.7 752.5 L504.9 754.1 L501.1 753.6 L496.8 751.2 L491.4 752.7 L489.2 753.8 L483.6 750 L484.9 747.3 L484.3 745.2 L471.9 735.4 L469.2 734.6 L467.6 735.4 L459.8 732.2Z" stroke="none" stroke-width="0.1" fill="#fff" />
<path d="M459.8 732.2 C459.7 731.8 458.8 730.5 459.2 729.5 C459.6 728.5 460.8 727.2 462.2 726.5 C463.6 725.8 465.9 725.3 467.6 725.3 C469.3 725.3 470.1 725.5 472.5 726.5 C474.8 727.5 478.5 729.3 481.6 731.1 C484.8 733 488.3 735.4 491.4 737.6 C494.4 739.9 497.6 742.6 500 744.6 C502.4 746.7 504.6 748.7 505.7 750 C506.9 751.3 506.9 751.8 506.7 752.5 C506.6 753.2 505.7 753.9 504.9 754.1 C504 754.3 502.2 753.9 501.6 753.8" stroke="#1a1718" stroke-width="1.3" fill="none" />
<path d="M461.1 729.7 C462.2 729.3 465.8 727.6 467.6 727.5 C469.4 727.3 469.8 727.6 471.9 728.5 C474.1 729.5 477.5 731.4 480.6 733.3 C483.6 735.2 487.2 737.5 490.3 739.8 C493.4 742 496.7 744.9 498.9 746.8 C501.1 748.7 502.9 749.9 503.5 751.1 C504 752.3 502.4 753.4 502.2 753.8" stroke="#333" stroke-width="0.7" fill="none" />
<path d="M459.8 732.2 L467.6 735.4 L469.2 734.6 L471.9 735.4 L484.3 745.2 L484.9 747.3 L483.6 750 L489.2 753.8 L491.4 752.7 L496.8 751.2 L501.3 751.9" stroke="#1a1718" stroke-width="1.1" fill="none" />
<path d="M467.6 735.4 L482.7 747.3 L483.6 750" stroke="#222" stroke-width="0.9" fill="none" />
<path d="M489.2 753.8 L489.8 758.1" stroke="#1a1718" stroke-width="0.8" fill="none" />
<path d="M491.4 752.7 L492.2 757.1 L496.8 755.4 L496.8 751.2" stroke="#444" stroke-width="0.7" fill="none" />
<path d="M462.2 731.1 L470.3 734.4" stroke="#666" stroke-width="0.6" fill="none" />
<path d="M464 813.9 C464.2 813.5 464.6 812.5 465 812 C465.4 811.6 465.1 811.4 466.3 811.1 C467.5 810.9 469.9 810.7 472.4 810.5 C474.9 810.3 478.3 810.1 481.2 810.1 C484.1 810.1 487.4 810.3 489.9 810.5 C492.4 810.7 494.8 810.9 496 811.1 C497.2 811.4 496.9 811.6 497.3 812 C497.7 812.5 498.2 813.5 498.3 813.9" stroke="#1a1718" stroke-width="0.9" fill="none" />
<path d="M453 813.9 L503.5 813.9 L508.7 823.4 L507.9 825.5 L447.3 825.5 L446.5 823.4Z" stroke="#1a1718" stroke-width="0.9" fill="none" />
<path d="M446.5 823.4 L446.5 848.1 L450.1 850.9 L459.7 851.4" stroke="#1a1718" stroke-width="0.9" fill="none" />
<path d="M503.5 813.9 L510.7 815.7 L517.8 824.2 L517.8 848.1 L515.2 850.9 L499.4 851.4" stroke="#1a1718" stroke-width="0.9" fill="none" />
<path d="M508.7 823.4 L517.8 824.2" stroke="#1a1718" stroke-width="0.8" fill="none" />
<path d="M447.3 825.5 L447.8 831.9 L450.1 834.6 L457.1 834.6" stroke="#1a1718" stroke-width="0.8" fill="none" />
<path d="M507.9 825.5 L507.4 831.2 L504.8 834.9 L502.5 835.1" stroke="#1a1718" stroke-width="0.8" fill="none" />
<path d="M502.2 835.1 L502.2 851.4" stroke="#333" stroke-width="0.8" fill="none" />
<path d="M449.1 848.7 L459.4 848.7" stroke="#8a8889" stroke-width="0.7" fill="none" />
<path d="M500.9 849.4 L515.8 848.7" stroke="#8a8889" stroke-width="0.7" fill="none" />
<path d="M459.4 828.1 L499 828.1 L499 832 L459.4 832Z" stroke="#222" stroke-width="0.9" fill="none" />
<path d="M454.9 838 L459.1 833.9 L501.4 833.9 L504.3 838.2" stroke="#555" stroke-width="0.9" fill="none" />
<path d="M469.2 833.6 L489.9 833.6" stroke="#1a1718" stroke-width="1.2" fill="none" />
<path d="M454.9 838 L504.3 838.2" stroke="#b8b6b7" stroke-width="0.8" fill="none" />
<path d="M456.9 838.5 L456.9 845.7 L502.2 845.7" stroke="#8a8889" stroke-width="0.8" fill="none" />
<path d="M461.4 839.3 L461.4 842.9 L466.6 845.7" stroke="#b8b6b7" stroke-width="0.7" fill="none" />
<path d="M461.4 839.3 L497 839.3 L499 842.9" stroke="#b8b6b7" stroke-width="0.7" fill="none" />
<path d="M458.1 856 L461.4 846.9 L497 846.9 L499.1 856Z" stroke="#1a1718" stroke-width="1.0" fill="#fff" />
<path d="M458.1 856 L499.1 856" stroke="#1a1718" stroke-width="1.5" fill="none" />
<path d="M461.4 846.9 L497 846.9" stroke="#1a1718" stroke-width="1.4" fill="none" />
<path d="M497 846.9 L498.6 846.9 L498.6 850" stroke="#1a1718" stroke-width="1.4" fill="none" />
<path d="M470.6 856 L471.2 859.5 L485.5 859.5 L486.4 856" stroke="#333" stroke-width="0.8" fill="#fff" />
<path d="M470.6 856 C470.9 855.7 471.1 854.6 472.4 854 C473.7 853.5 476.6 852.7 478.6 852.7 C480.7 852.7 483.4 853.5 484.7 854 C486 854.6 486.1 855.7 486.4 856" stroke="#444" stroke-width="0.8" fill="#fff" />
<path d="M481.5 816.4 L494.4 816.4 L494.7 817.7 L481.2 817.7Z" stroke="#333" stroke-width="0.8" fill="none" />
<path d="M472.9 818.6 L475 818.1" stroke="#555" stroke-width="0.8" fill="none" />
<path d="M471.6 820.6 L473.7 820.1" stroke="#555" stroke-width="0.8" fill="none" />
<path d="M470.9 822.5 L472.9 822" stroke="#555" stroke-width="0.8" fill="none" />
<path d="M479.1 821.6 L480.1 820.1" stroke="#333" stroke-width="1.0" fill="none" />
<path d="M483.8 821.6 L484.7 820.1" stroke="#333" stroke-width="1.0" fill="none" />
<path d="M489.6 821.6 L490.6 820.1" stroke="#333" stroke-width="1.0" fill="none" />
<path d="M494.8 821.6 L495.7 820.1" stroke="#333" stroke-width="1.0" fill="none" />
<path d="M449 897.6 L450.4 896.2 L489.2 888.8 L491.2 890 L501.1 922.1 L463.2 936 L461.8 934.8Z" stroke="#1a1718" stroke-width="1.0" fill="#fff" />
<path d="M450.4 896.2 L463.6 934.3 L500.5 920.6" stroke="#666" stroke-width="0.6" fill="none" />
<path d="M456.1 899.9 L488 892.8 L497.4 919.5 L466.7 930.6Z" stroke="#333" stroke-width="0.8" fill="#dcdcdc" />
<path d="M467.4 892.5 L473.1 891.4" stroke="#333" stroke-width="1.6" fill="none" />
<path d="M462.5 938.5 L501.5 923.2 L530.1 930.3 L530.1 935.3 L493.3 953.3 L463.2 942.5Z" stroke="#1a1718" stroke-width="1.0" fill="#fff" />
<path d="M462.5 938.5 L492.3 949.6 L530.1 930.3" stroke="#1a1718" stroke-width="0.9" fill="none" />
<path d="M492.3 949.6 L493.3 953.3" stroke="#1a1718" stroke-width="0.8" fill="none" />
<path d="M485.5 947.6 L486.3 951" stroke="#1a1718" stroke-width="0.8" fill="none" />
<path d="M463.2 936 L463.9 938" stroke="#1a1718" stroke-width="0.8" fill="none" />
<path d="M474.5 932 L475.2 933.7" stroke="#444" stroke-width="0.7" fill="none" />
<path d="M493 925.3 L493.7 926.9" stroke="#444" stroke-width="0.7" fill="none" />
<path d="M479.5 930.3 L481.2 929.7" stroke="#444" stroke-width="1.2" fill="none" />
<path d="M488 926.9 L489.7 926.3" stroke="#444" stroke-width="1.2" fill="none" />
<path d="M469.3 939.1 L503.7 924.9 L518.1 928.9 L485.5 943.6Z" stroke="#333" stroke-width="0.7" fill="#a6a6a6" />
<path d="M471.3 939.2 L504.2 925.5" stroke="#1c191a" stroke-width="1.1" fill="none" stroke-dasharray="1.3 0.4" stroke-dashoffset="0.0" stroke-linecap="butt"/>
<path d="M474 940 L506.6 926.2" stroke="#1c191a" stroke-width="1.1" fill="none" stroke-dasharray="1.3 0.4" stroke-dashoffset="0.6" stroke-linecap="butt"/>
<path d="M476.7 940.7 L509 926.8" stroke="#1c191a" stroke-width="1.1" fill="none" stroke-dasharray="1.3 0.4" stroke-dashoffset="1.2" stroke-linecap="butt"/>
<path d="M479.4 941.5 L511.5 927.5" stroke="#1c191a" stroke-width="1.1" fill="none" stroke-dasharray="1.3 0.4" stroke-dashoffset="1.8" stroke-linecap="butt"/>
<path d="M482.1 942.2 L513.9 928.2" stroke="#1c191a" stroke-width="1.1" fill="none" stroke-dasharray="1.3 0.4" stroke-dashoffset="2.4" stroke-linecap="butt"/>
<path d="M484.8 943 L516.3 928.8" stroke="#1c191a" stroke-width="1.1" fill="none" stroke-dasharray="1.3 0.4" stroke-dashoffset="3.0" stroke-linecap="butt"/>
<path d="M505.1 936.8 L511 934 L515.3 936 L509.9 939.1Z" stroke="#333" stroke-width="0.8" fill="#fff" />
<path d="M509.9 939.1 L515.3 936" stroke="#333" stroke-width="1.4" fill="none" />
<path d="M495.4 949.9 L529.2 932.9" stroke="#555" stroke-width="1.3" fill="none" stroke-dasharray="1 1.1" stroke-linecap="butt"/>
<path d="M461.8 930.3 L462.5 932" stroke="#333" stroke-width="1.4" fill="none" />
</g>
</svg>

</body>
</html>
